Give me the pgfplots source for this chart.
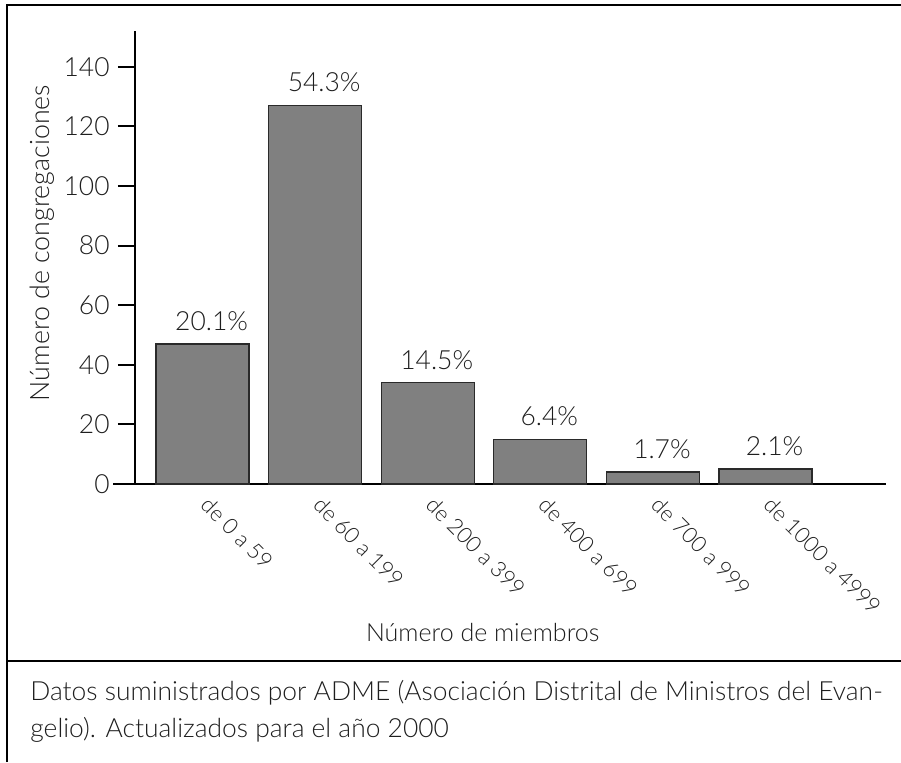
\documentclass[border=0pt]{standalone}
\usepackage{fontspec}
\setmainfont{Lato Light}
\usepackage{pgfplots}
\pgfplotsset{compat=1.18}
\usepackage{pgfplotstable}
\definecolor{txt}{HTML}{1E1E1E}
\definecolor{barfill}{HTML}{808080}
\definecolor{baredge}{HTML}{2A2A2A}

\pgfplotstableread{
x y lab
0 47 20.1
1 127 54.3
2 34 14.5
3 15 6.4
4 4 1.7
5 5 2.1
}\datatable

\begin{document}
\fontsize{13.2}{15}\selectfont
\begin{tikzpicture}
\useasboundingbox (0pt,0pt) rectangle (450.5pt,381pt);
\draw[line width=1pt] (3.5pt,0pt) -- (3.5pt,378.5pt) -- (450.5pt,378.5pt);
\draw[line width=1pt] (3.5pt,50.5pt) -- (450.5pt,50.5pt);
\node[anchor=base west, text=txt, inner sep=0pt] at (15pt,31pt) {Datos suministrados por ADME (Asociación Distrital de Ministros del Evan-};
\node[anchor=base west, text=txt, inner sep=0pt] at (15pt,12.5pt) {gelio). Actualizados para el año 2000};
\begin{axis}[
  at={(67.5pt,139pt)}, anchor=south west,
  scale only axis, width=375.5pt, height=226.5pt,
  xmin=-0.6, xmax=6.07, ymin=0, ymax=152,
  axis x line*=bottom, axis y line*=left,
  axis line style={line width=1.2pt,-, black},
  clip=false,
  xtick=data,
  xticklabels={de 0 a 59, de 60 a 199, de 200 a 399, de 400 a 699, de 700 a 999, de 1000 a 4999},
  x tick style={draw=none},
  xticklabel style={rotate=-45, anchor=north west, inner sep=0pt, yshift=5pt, xshift=0.8pt, text=txt, font=\fontsize{11}{13}\selectfont},
  ytick={0,20,...,140},
  tick align=outside,
  major tick length=8.5pt,
  y tick style={line width=1pt, black},
  yticklabel style={text=txt, inner sep=0pt, xshift=-4pt},
  /pgf/number format/assume math mode=true,
  xlabel={Número de miembros},
  ylabel={Número de congregaciones},
  every axis x label/.style={at={(rel axis cs:0.463,-0.327)}, anchor=center, text=txt, font=\fontsize{12.5}{14}\selectfont},
  every axis y label/.style={at={(rel axis cs:-0.124,0.532)}, rotate=90, anchor=center, text=txt, font=\fontsize{13.4}{16}\selectfont},
]
\addplot[ybar, bar width=46.5pt, fill=barfill, draw=baredge, line width=0.6pt,
  point meta=explicit symbolic,
  nodes near coords={\pgfplotspointmeta\%},
  every node near coord/.append style={text=txt, xshift=4.5pt, yshift=2pt}]
  table[x=x, y=y, meta=lab] {\datatable};
\draw[line width=1.2pt] (axis cs:-0.795,0) -- (axis cs:-0.6,0);
\end{axis}
\end{tikzpicture}
\end{document}
